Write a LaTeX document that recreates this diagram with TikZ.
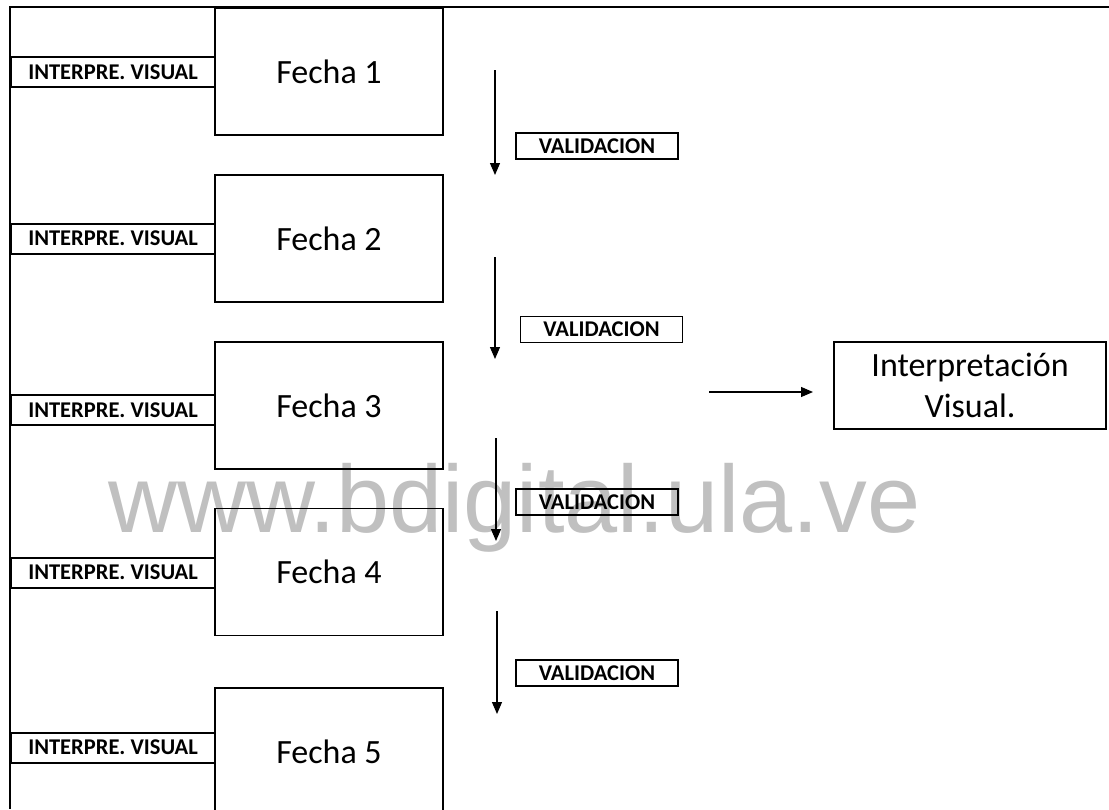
\documentclass[tikz,border=0pt]{standalone}
\usepackage{fontspec}
\setmainfont{Carlito}
\newfontfamily\wmfont{Liberation Sans}
\usetikzlibrary{arrows.meta}
\definecolor{wmgray}{HTML}{C0C0C0}
\begin{document}
\begin{tikzpicture}[x=1pt,y=-1pt,
  fechabox/.style={draw,line width=1.5pt,minimum width=228pt,minimum height=127pt,inner sep=0pt,
    font=\fontsize{34}{41.5}\selectfont},
  interpbox/.style={draw,line width=2pt,minimum width=204pt,minimum height=30pt,inner sep=0pt,
    font=\fontsize{22.5}{26}\selectfont\bfseries},
  valbox/.style={draw,line width=1.5pt,minimum width=162pt,minimum height=26pt,inner sep=0pt,
    font=\fontsize{22.5}{26}\selectfont\bfseries},
  resbox/.style={draw,line width=1.5pt,minimum width=272pt,minimum height=87pt,inner sep=0pt,
    align=center,font=\fontsize{34}{41.5}\selectfont},
  flecha/.style={line width=1.2pt,-{Triangle[width=10pt,length=12pt]}},
  marco/.style={line width=2pt}
]
\clip (0,0) rectangle (1109,809);
\fill[white] (0,0) rectangle (1109,809);
% watermark
\node[anchor=base west,inner sep=0pt,text=wmgray,font=\wmfont\fontsize{95.5}{100}\selectfont] (wm) at (108,532) {www.bdigital.ula.ve};
% frame
\coordinate (tl) at (10,7);
\coordinate (tr) at (1109,7);
\coordinate (bl) at (10,809);
\draw[marco] (tr) -- (tl) -- (bl);
% fecha boxes
\node[fechabox] (f1) at (329,71.5) {Fecha 1};
\node[fechabox] (f2) at (329,238.5) {Fecha 2};
\node[fechabox] (f3) at (329,405.5) {Fecha 3};
\node[fechabox] (f4) at (329,572) {Fecha 4};
\node[fechabox] (f5) at (329,751.5) {Fecha 5};
% interpre boxes
\node[interpbox] (i1) at (113,72) {INTERPRE. VISUAL};
\node[interpbox] (i2) at (113,238.5) {INTERPRE. VISUAL};
\node[interpbox] (i3) at (113,410) {INTERPRE. VISUAL};
\node[interpbox] (i4) at (113,572.5) {INTERPRE. VISUAL};
\node[interpbox] (i5) at (113,747.5) {INTERPRE. VISUAL};
% validacion
\node[valbox] (v1) at (597,146) {VALIDACION};
\node[valbox] (v2) at (601.5,329.5) {VALIDACION};
\node[valbox] (v3) at (597,502) {VALIDACION};
\node[valbox] (v4) at (597,673) {VALIDACION};
% arrows
\coordinate (a1s) at (495,70);  \coordinate (a1e) at (495,175);
\coordinate (a2s) at (495,257); \coordinate (a2e) at (495,359);
\coordinate (a3s) at (496,438); \coordinate (a3e) at (496,541);
\coordinate (a4s) at (497,611); \coordinate (a4e) at (497,714);
\draw[flecha] (a1s) -- (a1e);
\draw[flecha] (a2s) -- (a2e);
\draw[flecha] (a3s) -- (a3e);
\draw[flecha] (a4s) -- (a4e);
% result
\node[resbox] (r) at (970,385.5) {Interpretación\\Visual.};
\coordinate (hs) at (709,392);
\coordinate (he) at (813,392);
\draw[flecha] (hs) -- (he);
\end{tikzpicture}
\end{document}
